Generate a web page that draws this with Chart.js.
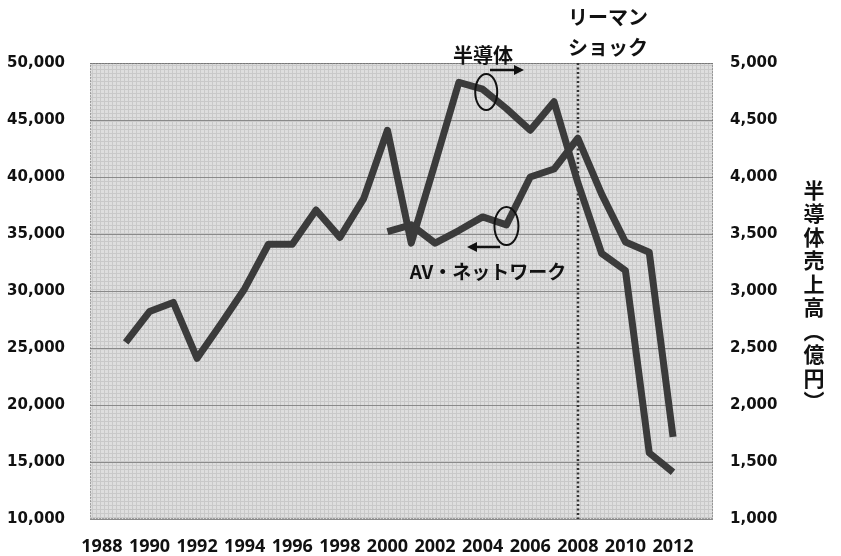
<!DOCTYPE html>
<html>
<head>
<meta charset="utf-8">
<script src="https://cdn.jsdelivr.net/npm/chart.js@4.4.1/dist/chart.umd.min.js"></script>
<style>
  body { margin: 0; background: #fff; }
  canvas { display: block; }
</style>
</head>
<body>
<canvas id="chart" width="841" height="556"></canvas>
<script>
// 半導体売上高 (億円, right axis)
const semiYears = [1989, 1990, 1991, 1992, 1993, 1994, 1995, 1996, 1997, 1998, 1999, 2000,
                   2001, 2002, 2003, 2004, 2005, 2006, 2007, 2008, 2009, 2010, 2011, 2012];
const semiValues = [2550, 2820, 2900, 2410, 2710, 3020, 3410, 3410, 3710, 3470, 3810, 4410,
                    3420, 4120, 4830, 4770, 4600, 4410, 4660, 3950, 3330, 3180, 1580, 1410];

// AV・ネットワーク (left axis)
const avYears = [2000, 2001, 2002, 2003, 2004, 2005, 2006, 2007, 2008, 2009, 2010, 2011, 2012];
const avValues = [35200, 35800, 34200, 35300, 36500, 35800, 40000, 40700, 43400, 38500, 34300, 33400, 17200];

const xTickYears = [1988, 1990, 1992, 1994, 1996, 1998, 2000, 2002, 2004, 2006, 2008, 2010, 2012];
const shockYear = 2008;
const rightTitle = ['半', '導', '体', '売', '上', '高', '︵', '億', '円', '︶'];

const lineColor = '#3b3b3b';
const fmt = v => v.toLocaleString('en-US');

// textured plot background + dotted frame
const backdrop = {
    id: 'backdrop',
    beforeDraw(chart) {
        const { ctx, chartArea: a } = chart;
        ctx.save();
        ctx.fillStyle = '#dedede';
        ctx.fillRect(a.left, a.top, a.right - a.left, a.bottom - a.top);
        ctx.strokeStyle = '#c9c9c9';
        ctx.lineWidth = 1;
        ctx.beginPath();
        for (let x = a.left + 2; x < a.right; x += 4) {
            ctx.moveTo(x + 0.5, a.top);
            ctx.lineTo(x + 0.5, a.bottom);
        }
        for (let y = a.top + 2; y < a.bottom; y += 4) {
            ctx.moveTo(a.left, y + 0.5);
            ctx.lineTo(a.right, y + 0.5);
        }
        ctx.stroke();
        ctx.restore();
    },
    beforeDatasetsDraw(chart) {
        const { ctx, chartArea: a, scales } = chart;
        ctx.save();
        // frame
        ctx.strokeStyle = '#666';
        ctx.lineWidth = 1;
        ctx.setLineDash([1, 2]);
        ctx.strokeRect(a.left + 0.5, a.top + 0.5, a.right - a.left - 1, a.bottom - a.top - 1);
        // リーマンショック line
        const x = Math.round(scales.x.getPixelForValue(shockYear));
        ctx.strokeStyle = '#333';
        ctx.lineWidth = 2.5;
        ctx.setLineDash([2, 2.5]);
        ctx.beginPath();
        ctx.moveTo(x, a.top);
        ctx.lineTo(x, a.bottom);
        ctx.stroke();
        ctx.restore();
    }
};

function arrow(ctx, x1, x2, y) {
    const dir = Math.sign(x2 - x1);
    ctx.beginPath();
    ctx.moveTo(x1, y);
    ctx.lineTo(x2 - dir * 7, y);
    ctx.stroke();
    ctx.beginPath();
    ctx.moveTo(x2, y);
    ctx.lineTo(x2 - dir * 10, y - 5);
    ctx.lineTo(x2 - dir * 10, y + 5);
    ctx.closePath();
    ctx.fill();
}

const notes = {
    id: 'notes',
    afterDraw(chart) {
        const { ctx, scales } = chart;
        const xs = scales.x, yl = scales.yL;
        ctx.save();
        ctx.strokeStyle = '#111';
        ctx.fillStyle = '#111';
        ctx.lineWidth = 2;

        // circles marking each series
        ctx.beginPath();
        ctx.ellipse(xs.getPixelForValue(2004.15), yl.getPixelForValue(47450), 11, 18, 0, 0, Math.PI * 2);
        ctx.stroke();
        ctx.beginPath();
        ctx.ellipse(xs.getPixelForValue(2005), yl.getPixelForValue(35700), 12, 19, 0, 0, Math.PI * 2);
        ctx.stroke();

        ctx.lineWidth = 2.5;
        arrow(ctx, 490, 524, 70);
        arrow(ctx, 500, 467, 247);

        ctx.textAlign = 'center';
        ctx.textBaseline = 'middle';
        ctx.font = 'bold 20px "Noto Sans CJK JP"';
        ctx.fillText('半導体', 483, 55);
        ctx.fillText('リーマン', 608, 17);
        ctx.fillText('ショック', 608, 47);
        ctx.font = 'bold 19px "Noto Sans CJK JP"';
        ctx.fillText('AV・ネットワーク', 488, 272);

        // vertical right-axis title
        ctx.font = 'bold 21px "Noto Sans CJK JP"';
        rightTitle.forEach((ch, i) => ctx.fillText(ch, 814, 190 + i * 23.5));
        ctx.restore();
    }
};

const tickFont = { family: 'DejaVu Sans', size: 15, weight: 'bold' };

new Chart(document.getElementById('chart'), {
    type: 'line',
    data: {
        datasets: [
            {
                label: '半導体',
                data: semiYears.map((y, i) => ({ x: y, y: semiValues[i] })),
                yAxisID: 'yR',
                borderColor: lineColor,
                borderWidth: 7,
                borderJoinStyle: 'round',
                pointRadius: 0,
                tension: 0
            },
            {
                label: 'AV・ネットワーク',
                data: avYears.map((y, i) => ({ x: y, y: avValues[i] })),
                yAxisID: 'yL',
                borderColor: lineColor,
                borderWidth: 7,
                borderJoinStyle: 'round',
                pointRadius: 0,
                tension: 0
            }
        ]
    },
    options: {
        responsive: false,
        animation: false,
        layout: { padding: { top: 63 } },
        plugins: { legend: { display: false }, tooltip: { enabled: false } },
        scales: {
            x: {
                type: 'linear',
                min: 1987.5,
                max: 2013.68,
                afterBuildTicks: s => { s.ticks = xTickYears.map(v => ({ value: v })); },
                afterFit: s => { s.height = 37; },
                grid: { display: false },
                border: { display: false },
                ticks: {
                    autoSkip: false,
                    maxRotation: 0,
                    padding: 9,
                    color: '#111',
                    font: { family: 'Noto Sans', size: 18, weight: 'bold' },
                    callback: v => String(v)
                }
            },
            yL: {
                position: 'left',
                min: 10000,
                max: 50000,
                afterFit: s => { s.width = 90; },
                grid: { color: '#8a8a8a', lineWidth: 1, drawTicks: false },
                border: { display: false },
                ticks: { stepSize: 5000, padding: 25, color: '#111', font: tickFont, callback: v => fmt(v) }
            },
            yR: {
                position: 'right',
                min: 1000,
                max: 5000,
                afterFit: s => { s.width = 128; },
                grid: { drawOnChartArea: false, drawTicks: false },
                border: { display: false },
                ticks: { stepSize: 500, padding: 17, color: '#111', font: tickFont, callback: v => fmt(v) }
            }
        }
    },
    plugins: [backdrop, notes]
});
</script>
</body>
</html>
